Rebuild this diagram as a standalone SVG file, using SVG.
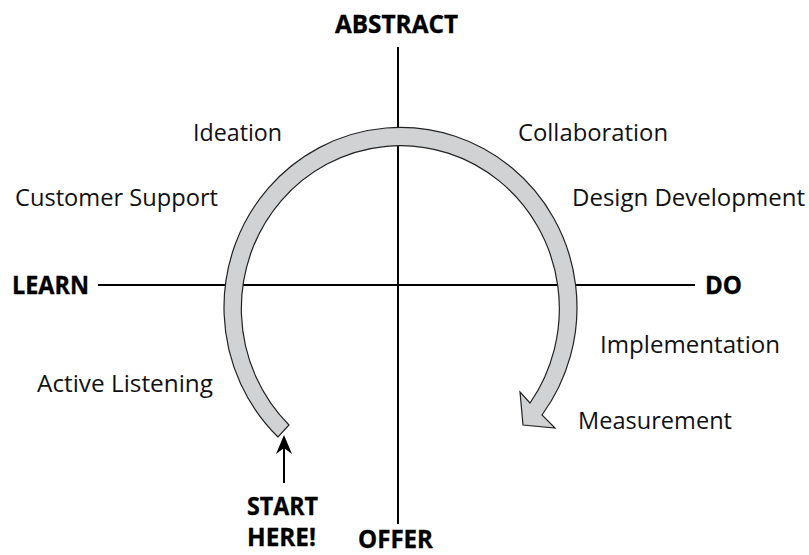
<svg xmlns="http://www.w3.org/2000/svg" width="809" height="555" viewBox="0 0 809 555">
  <style>
    .lbl { font-family: "Open Sans", "Liberation Sans", Arial, sans-serif; font-size: 23px; fill: #111; }
    .bold { font-family: "Open Sans", "Liberation Sans", Arial, sans-serif; font-size: 25px; font-weight: 700; fill: #000; stroke: #000; stroke-width: 0.35; }
    .axis { stroke: #000; stroke-width: 2; fill: none; }
    .cycle { fill: #d1d2d4; stroke: #222; stroke-width: 1.2; stroke-linejoin: miter; }
  </style>
  <rect width="809" height="555" fill="#fff"/>
  <g id="connectors">
    <line class="axis" x1="398" y1="47" x2="398" y2="524"/>
    <line class="axis" x1="98" y1="285" x2="695" y2="285"/>
    <line x1="284" y1="483" x2="284" y2="448" stroke="#000" stroke-width="2"/>
    <polygon points="284,435 292,454 284,448 276,454" fill="#000"/>
  </g>
  <g id="cycle-arrow">
    <path class="cycle" d="M278,437 A176.5,180 0 1 1 542,415 L555,428 L523,425 L520,392 L530,403 A159,163 0 1 0 289,425 Z"/>
  </g>
  <g id="axis-abstract"><text class="bold" x="335" y="33" textLength="123" lengthAdjust="spacingAndGlyphs">ABSTRACT</text></g>
  <g id="axis-learn"><text class="bold" x="12" y="294" textLength="77" lengthAdjust="spacingAndGlyphs">LEARN</text></g>
  <g id="axis-do"><text class="bold" x="705" y="294" textLength="37" lengthAdjust="spacingAndGlyphs">DO</text></g>
  <g id="axis-offer"><text class="bold" x="358" y="548" textLength="75" lengthAdjust="spacingAndGlyphs">OFFER</text></g>
  <g id="start-here">
    <text class="bold" x="247" y="515" textLength="71" lengthAdjust="spacingAndGlyphs">START</text>
    <text class="bold" x="247" y="546" textLength="69" lengthAdjust="spacingAndGlyphs">HERE!</text>
  </g>
  <g id="ideation"><text class="lbl" x="193" y="141" textLength="89" lengthAdjust="spacingAndGlyphs">Ideation</text></g>
  <g id="collaboration"><text class="lbl" x="518" y="141" textLength="150" lengthAdjust="spacingAndGlyphs">Collaboration</text></g>
  <g id="customer-support"><text class="lbl" x="15" y="206" textLength="203" lengthAdjust="spacingAndGlyphs">Customer Support</text></g>
  <g id="design-development"><text class="lbl" x="572" y="206" textLength="233" lengthAdjust="spacingAndGlyphs">Design Development</text></g>
  <g id="implementation"><text class="lbl" x="600" y="353" textLength="180" lengthAdjust="spacingAndGlyphs">Implementation</text></g>
  <g id="active-listening"><text class="lbl" x="37" y="392" textLength="176" lengthAdjust="spacingAndGlyphs">Active Listening</text></g>
  <g id="measurement"><text class="lbl" x="578" y="429" textLength="154" lengthAdjust="spacingAndGlyphs">Measurement</text></g>
</svg>
